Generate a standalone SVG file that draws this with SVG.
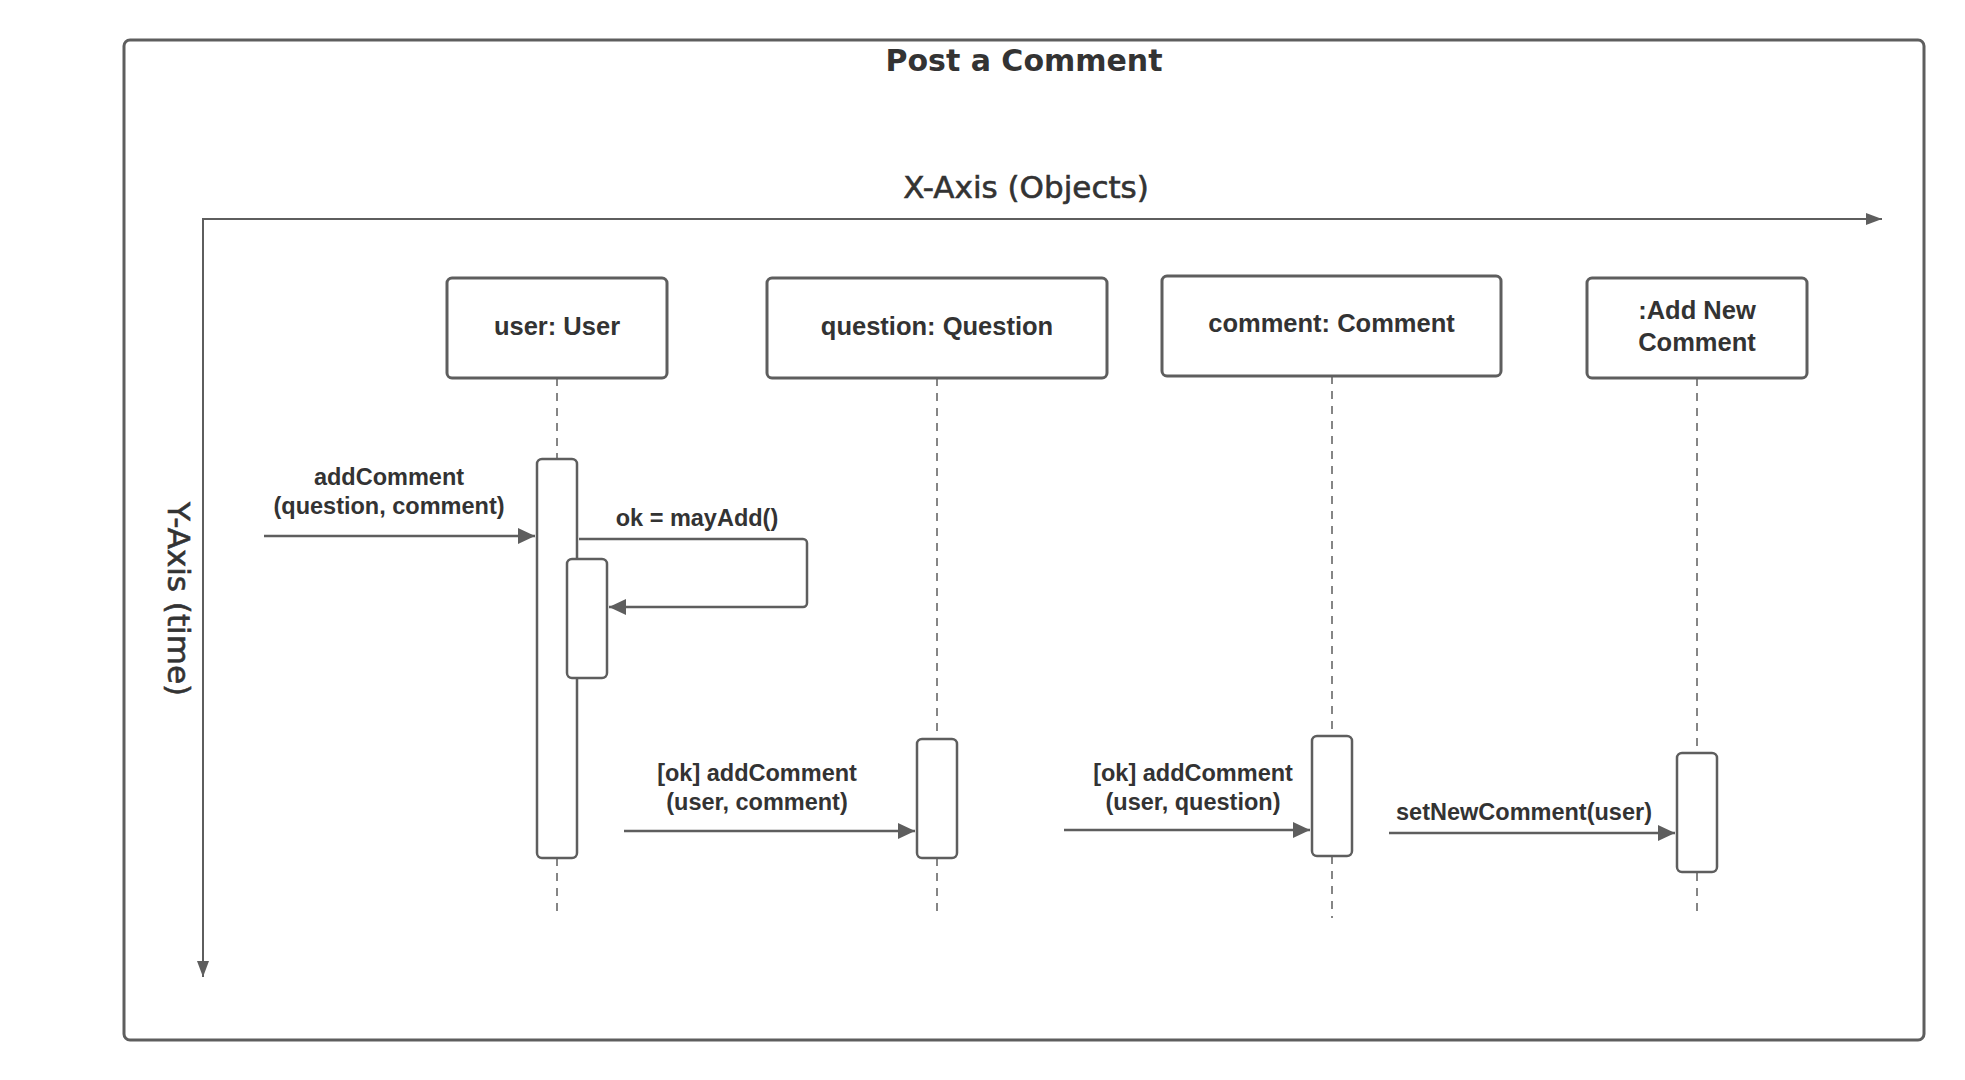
<svg xmlns="http://www.w3.org/2000/svg" width="1965" height="1080" viewBox="0 0 1965 1080">
<style>
.frame{fill:#fff;stroke:#5e5e5e;stroke-width:3}
.box{fill:#fff;stroke:#5e5e5e;stroke-width:3}
.bar{fill:#fff;stroke:#5e5e5e;stroke-width:2.5}
.life{stroke:#5e5e5e;stroke-width:1.5;stroke-dasharray:8 7;fill:none}
.msg{stroke:#5e5e5e;stroke-width:2.5;fill:none}
.axis{stroke:#5e5e5e;stroke-width:2;fill:none}
.nl{font-family:"Liberation Sans",Arial,sans-serif;font-weight:bold;font-size:25.5px;fill:#333;text-anchor:middle}
.ml{font-family:"Liberation Sans",Arial,sans-serif;font-weight:bold;font-size:23.5px;fill:#333;text-anchor:middle}
.tt{font-family:"DejaVu Sans",sans-serif;font-weight:bold;font-size:30px;fill:#333;text-anchor:middle}
.ax{font-family:"DejaVu Sans",sans-serif;font-size:31px;fill:#333;stroke:#333;stroke-width:0.6;text-anchor:middle}
</style>
<defs>
<marker id="arr" markerUnits="userSpaceOnUse" markerWidth="18" markerHeight="16" refX="17" refY="8" orient="auto">
<path d="M0,0 L17,8 L0,16 z" fill="#5e5e5e"/>
</marker>
</defs>
<rect width="1965" height="1080" fill="#fff"/>
<g id="frame">
<rect class="frame" x="124" y="40" width="1800" height="1000" rx="6"/>
<text class="tt" x="1024" y="71">Post a Comment</text>
</g>
<g id="axes">
<path class="axis" d="M203,977 V219 H1882" />
<path d="M1866,213 L1882,219 L1866,225 z" fill="#5e5e5e"/>
<path d="M197,961 L203,977 L209,961 z" fill="#5e5e5e"/>
<text class="ax" x="1026" y="198">X-Axis (Objects)</text>
<text class="ax" transform="translate(168,599) rotate(90)" x="0" y="0">Y-Axis (time)</text>
</g>
<g id="lifelines">
<line class="life" x1="557" y1="378" x2="557" y2="918"/>
<line class="life" x1="937" y1="378" x2="937" y2="918"/>
<line class="life" x1="1332" y1="376" x2="1332" y2="918"/>
<line class="life" x1="1697" y1="378" x2="1697" y2="918"/>
</g>
<g id="node-user">
<rect class="box" x="447" y="278" width="220" height="100" rx="5"/>
<text class="nl" x="557" y="335">user: User</text>
</g>
<g id="node-question">
<rect class="box" x="767" y="278" width="340" height="100" rx="5"/>
<text class="nl" x="937" y="335">question: Question</text>
</g>
<g id="node-comment">
<rect class="box" x="1162" y="276" width="339" height="100" rx="5"/>
<text class="nl" x="1331.5" y="332">comment: Comment</text>
</g>
<g id="node-addnew">
<rect class="box" x="1587" y="278" width="220" height="100" rx="5"/>
<text class="nl" x="1697" y="319">:Add New</text>
<text class="nl" x="1697" y="351">Comment</text>
</g>
<g id="activations">
<rect class="bar" x="537" y="459" width="40" height="399" rx="5"/>
<rect class="bar" x="567" y="559" width="40" height="119" rx="5"/>
<rect class="bar" x="917" y="739" width="40" height="119" rx="5"/>
<rect class="bar" x="1312" y="736" width="40" height="120" rx="5"/>
<rect class="bar" x="1677" y="753" width="40" height="119" rx="5"/>
</g>
<g id="connectors">
<line class="msg" x1="264" y1="536" x2="535" y2="536" marker-end="url(#arr)"/>
<path class="msg" d="M579,539 H803 a4,4 0 0 1 4,4 V603 a4,4 0 0 1 -4,4 H609" marker-end="url(#arr)"/>
<line class="msg" x1="624" y1="831" x2="915" y2="831" marker-end="url(#arr)"/>
<line class="msg" x1="1064" y1="830" x2="1310" y2="830" marker-end="url(#arr)"/>
<line class="msg" x1="1389" y1="833" x2="1675" y2="833" marker-end="url(#arr)"/>
</g>
<g id="labels">
<text class="ml" x="389" y="485">addComment</text>
<text class="ml" x="389" y="514">(question, comment)</text>
<text class="ml" x="697" y="526">ok = mayAdd()</text>
<text class="ml" x="757" y="781">[ok] addComment</text>
<text class="ml" x="757" y="810">(user, comment)</text>
<text class="ml" x="1193" y="781">[ok] addComment</text>
<text class="ml" x="1193" y="810">(user, question)</text>
<text class="ml" x="1524" y="820">setNewComment(user)</text>
</g>
</svg>
